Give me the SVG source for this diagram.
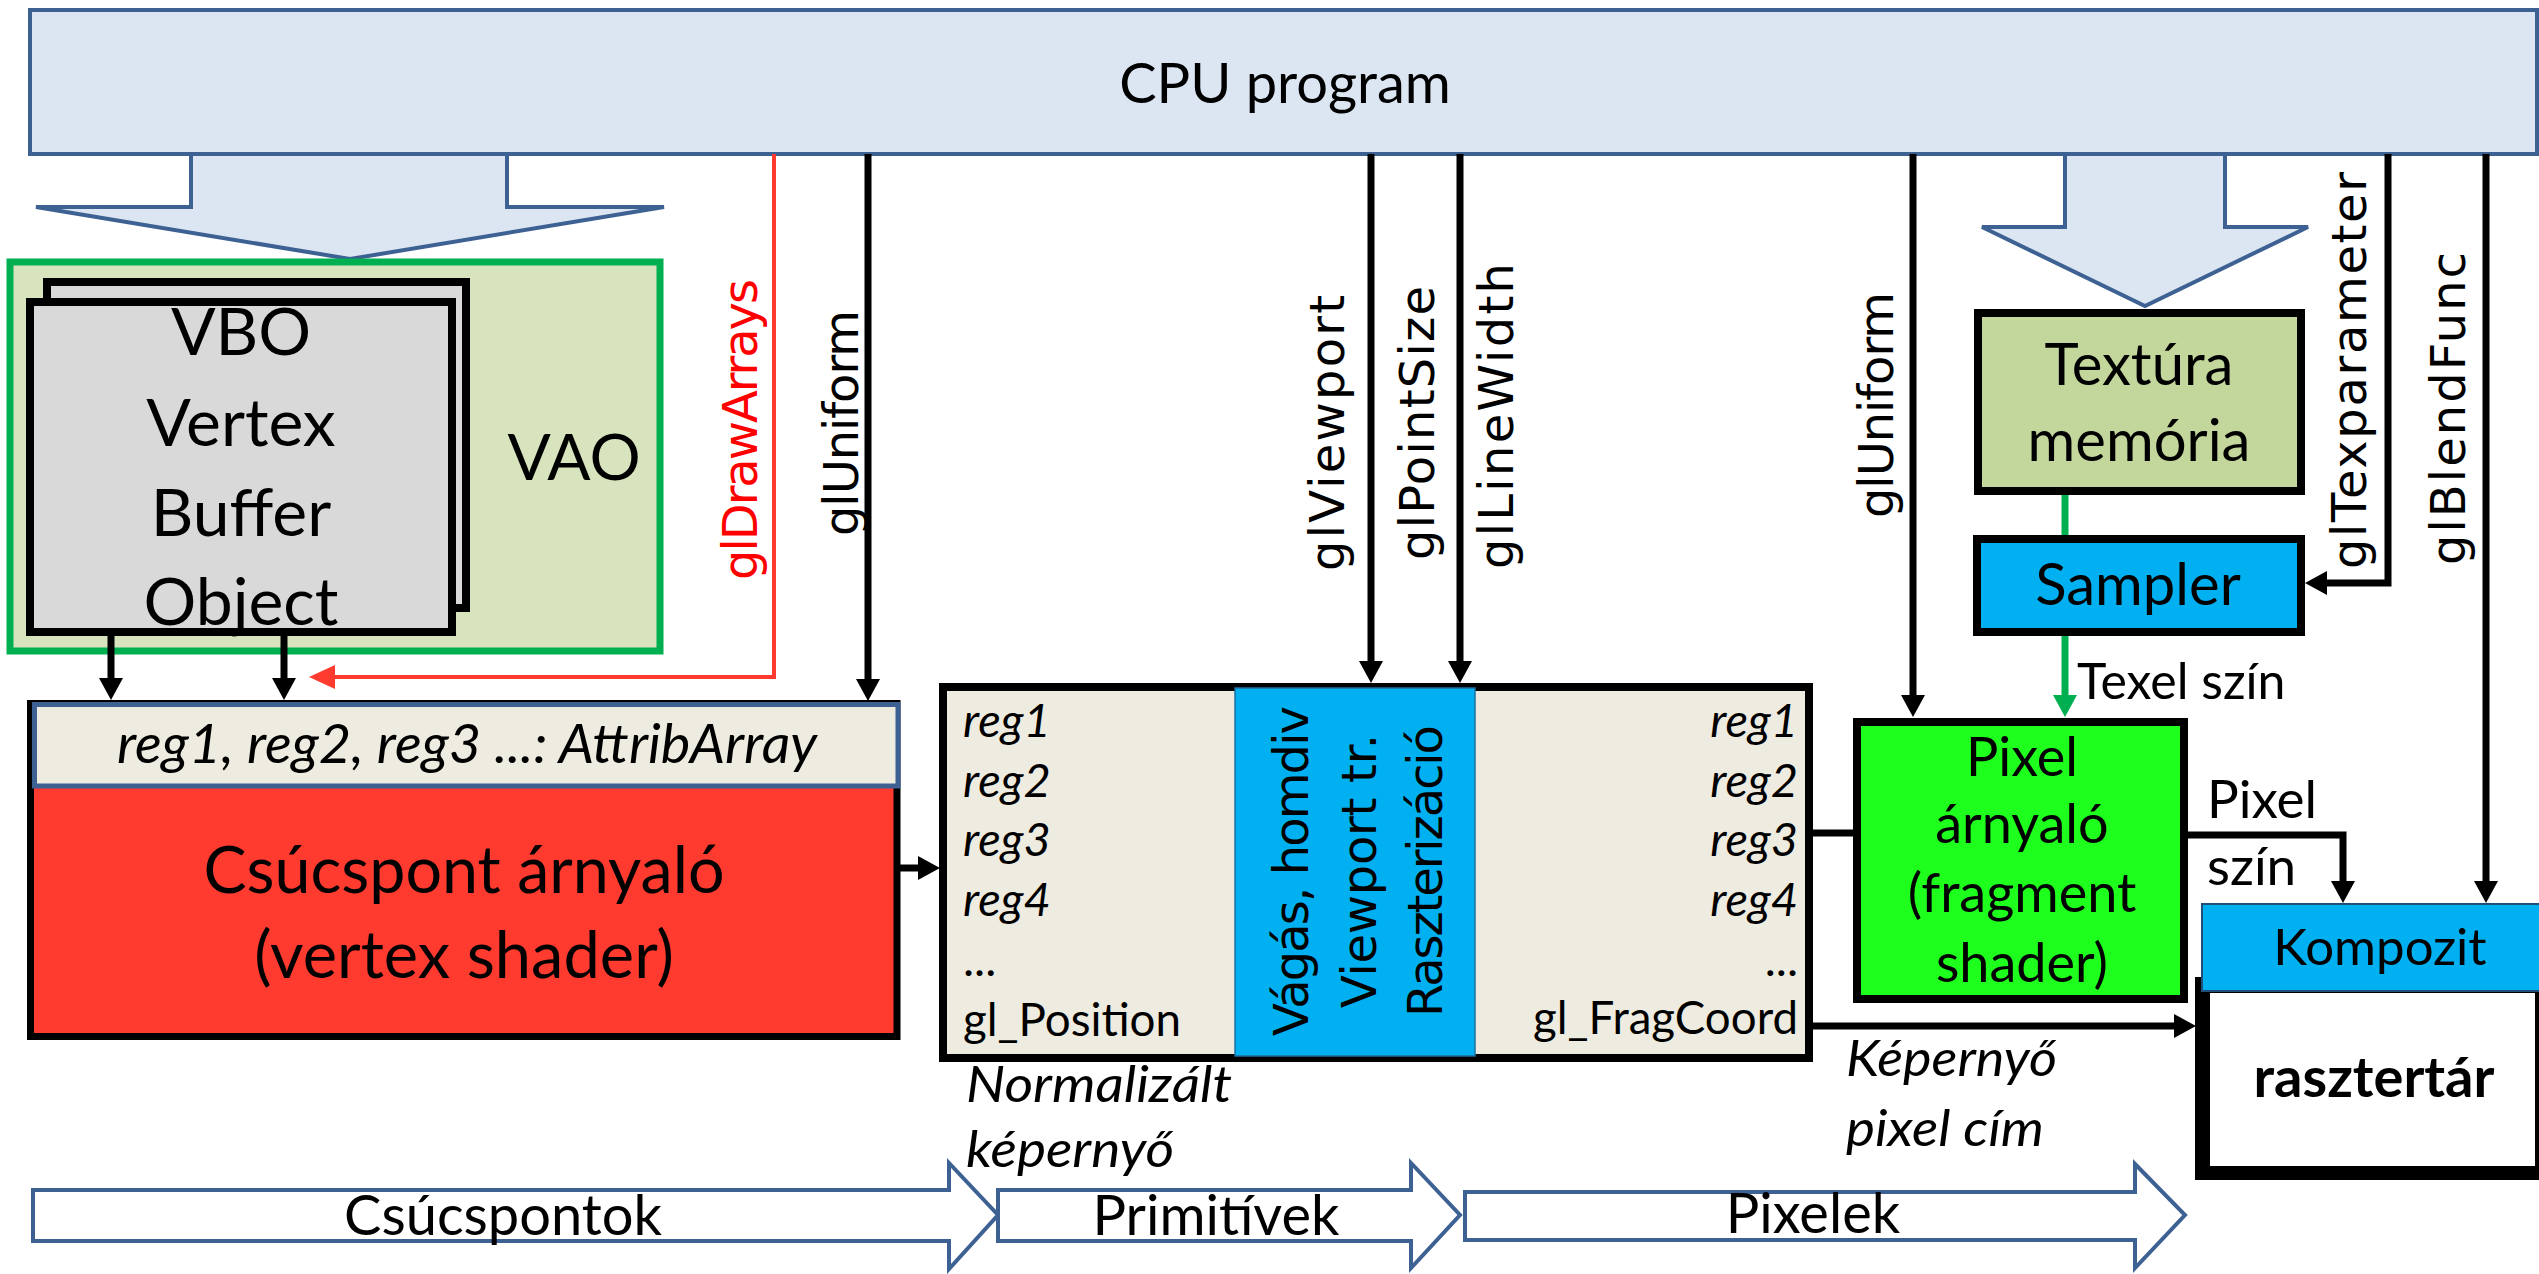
<svg xmlns="http://www.w3.org/2000/svg" width="2539" height="1274" viewBox="0 0 2539 1274">
<style>
.t{font-family:Lato,"Open Sans","Liberation Sans",sans-serif;fill:#000}
.r{font-family:"DejaVu Sans",Verdana,sans-serif;fill:#000;font-size:48px}
.i{font-style:italic}
.m{text-anchor:middle}
.e{text-anchor:end}
.blu{fill:#dce6f2;stroke:#3e6193;stroke-width:4;stroke-linejoin:miter}
.bx{stroke:#000;stroke-width:8}
.c{fill:none;stroke:#000;stroke-width:7}
</style>
<defs>
<marker id="ab" markerUnits="userSpaceOnUse" markerWidth="24" markerHeight="26" refX="10" refY="12" orient="auto"><path d="M0,0 L22,12 L0,24 z" fill="#000"/></marker>
<marker id="ag" markerUnits="userSpaceOnUse" markerWidth="24" markerHeight="26" refX="10" refY="12" orient="auto"><path d="M0,0 L22,12 L0,24 z" fill="#00b050"/></marker>
<marker id="ar" markerUnits="userSpaceOnUse" markerWidth="28" markerHeight="26" refX="14" refY="12" orient="auto"><path d="M0,0 L26,12 L0,24 z" fill="#ff3b30"/></marker>
</defs>

<g id="cpu-arrow-left"><path class="blu" d="M191,154 V207 H36 L350,259 L664,207 H507 V154"/></g>
<g id="cpu-arrow-right"><path class="blu" d="M2065,154 V227 H1982 L2145,306 L2308,227 H2225 V154"/></g>
<g id="cpu"><rect class="blu" x="30" y="10" width="2507" height="144"/><text class="t m" x="1285" y="103" font-size="56">CPU program</text></g>

<g id="vao">
<rect x="10" y="262" width="650" height="389" fill="#d7e4bd" stroke="#00b050" stroke-width="7"/>
<text class="t m" x="574" y="480" font-size="64">VAO</text>
</g>
<g id="vbo">
<rect class="bx" x="47" y="282" width="419" height="326" fill="#d9d9d9"/>
<rect class="bx" x="30" y="302" width="422" height="330" fill="#d9d9d9"/>
<text class="t m" x="241" font-size="66"><tspan x="241" y="355">VBO</tspan><tspan x="241" y="446">Vertex</tspan><tspan x="241" y="536">Buffer</tspan><tspan x="241" y="625">Object</tspan></text>
</g>

<g id="vertex-shader">
<rect x="30.5" y="703.5" width="866.5" height="333" fill="#ff3b2f" stroke="#000" stroke-width="7"/>
<rect x="34.5" y="704.5" width="863.5" height="81.5" fill="#eeece1" stroke="#3e6193" stroke-width="5"/>
<text class="t i m" x="467" y="763" font-size="54" textLength="700" lengthAdjust="spacingAndGlyphs">reg1, reg2, reg3 ...: AttribArray</text>
<text class="t m" x="464" y="893" font-size="65" textLength="521" lengthAdjust="spacingAndGlyphs">Csúcspont árnyaló</text>
<text class="t m" x="464" y="978" font-size="65">(vertex shader)</text>
</g>

<g id="raster-stage">
<rect class="bx" x="943" y="687" width="866" height="371" fill="#eeece1"/>
<rect x="1235" y="688" width="240" height="368" fill="#00b0f0" stroke="#1f6f9f" stroke-width="1.5"/>
<g class="t i" font-size="47">
<text x="963" y="737">reg1</text><text x="963" y="797">reg2</text><text x="963" y="856">reg3</text><text x="963" y="916">reg4</text>
<text class="e" x="1798" y="737">reg1</text><text class="e" x="1798" y="797">reg2</text><text class="e" x="1798" y="856">reg3</text><text class="e" x="1798" y="916">reg4</text>
</g>
<g class="t" font-size="47">
<text x="963" y="976">...</text><text x="963" y="1036" textLength="218" lengthAdjust="spacingAndGlyphs">gl_Position</text>
<text class="e" x="1798" y="976">...</text><text class="e" x="1798" y="1034" textLength="265" lengthAdjust="spacingAndGlyphs">gl_FragCoord</text>
</g>
<text class="r m" x="1308" y="871" transform="rotate(-90 1308 871)" textLength="330">Vágás, homdiv</text>
<text class="r m" x="1376" y="871" transform="rotate(-90 1376 871)" textLength="274">Viewport tr.</text>
<text class="r m" x="1442" y="871" transform="rotate(-90 1442 871)" textLength="292">Raszterizáció</text>
</g>

<g id="texture-memory">
<rect class="bx" x="1978" y="313" width="323" height="178" fill="#c3d69b"/>
<text class="t m" x="2139" y="385" font-size="58">Textúra</text>
<text class="t m" x="2139" y="461" font-size="58">memória</text>
</g>
<g id="sampler">
<rect class="bx" x="1977" y="539" width="324" height="93" fill="#00b0f0"/>
<text class="t m" x="2138" y="605" font-size="58">Sampler</text>
</g>
<g id="fragment-shader">
<rect class="bx" x="1857" y="722" width="327" height="277" fill="#1eff1e"/>
<text class="t m" font-size="54"><tspan x="2022" y="776">Pixel</tspan><tspan x="2022" y="843">árnyaló</tspan><tspan x="2022" y="912">(fragment</tspan><tspan x="2022" y="982">shader)</tspan></text>
</g>
<g id="framebuffer">
<rect x="2195" y="977" width="344" height="203" fill="#000"/>
<rect x="2210" y="993" width="325" height="173" fill="#fff"/>
<text class="t m" x="2374" y="1097" font-size="56" font-weight="bold">rasztertár</text>
</g>
<g id="kompozit">
<rect x="2202" y="904" width="340" height="87" fill="#00b0f0" stroke="#1f4e79" stroke-width="2"/>
<text class="t m" x="2380" y="965" font-size="51">Kompozit</text>
</g>

<g id="connectors">
<path class="c" d="M111,632 V688" marker-end="url(#ab)"/>
<path class="c" d="M284,632 V688" marker-end="url(#ab)"/>
<path d="M774,154 V677 H321" fill="none" stroke="#ff3b30" stroke-width="4" marker-end="url(#ar)"/>
<path class="c" d="M868,154 V689" marker-end="url(#ab)"/>
<path class="c" d="M1371,154 V671" marker-end="url(#ab)"/>
<path class="c" d="M1460,154 V671" marker-end="url(#ab)"/>
<path class="c" d="M1913,154 V705" marker-end="url(#ab)"/>
<path class="c" d="M2388,154 V583 H2317" marker-end="url(#ab)"/>
<path class="c" d="M2486,154 V891" marker-end="url(#ab)"/>
<path class="c" d="M897,868 H928" marker-end="url(#ab)"/>
<path class="c" d="M1813,833 H1853"/>
<path class="c" d="M1813,1026 H2184" marker-end="url(#ab)"/>
<path class="c" d="M2188,835 H2343 V891" marker-end="url(#ab)"/>
<path d="M2065,495 V535" fill="none" stroke="#00b050" stroke-width="7"/>
<path d="M2065,636 V705" fill="none" stroke="#00b050" stroke-width="7" marker-end="url(#ag)"/>
</g>

<g id="labels">
<text class="r" x="757" y="580" style="fill:#ff0000" transform="rotate(-90 757 580)" textLength="301">glDrawArrays</text>
<text class="r" x="858" y="536" transform="rotate(-90 858 536)" textLength="226">glUniform</text>
<text class="r" x="1344" y="571" transform="rotate(-90 1344 571)" textLength="276">glViewport</text>
<text class="r" x="1434" y="560" transform="rotate(-90 1434 560)" textLength="274">glPointSize</text>
<text class="r" x="1513" y="569" transform="rotate(-90 1513 569)" textLength="306">glLineWidth</text>
<text class="r" x="1893" y="518" transform="rotate(-90 1893 518)" textLength="226">glUniform</text>
<text class="r" x="2366" y="569" transform="rotate(-90 2366 569)" textLength="397">glTexparameter</text>
<text class="r" x="2465" y="565" transform="rotate(-90 2465 565)" textLength="313">glBlendFunc</text>
<text class="t" x="2077" y="699" font-size="50">Texel szín</text>
<text class="t" x="2207" y="818" font-size="53">Pixel</text>
<text class="t" x="2207" y="885" font-size="53">szín</text>
<text class="t i" x="966" y="1102" font-size="50" textLength="266" lengthAdjust="spacingAndGlyphs">Normalizált</text>
<text class="t i" x="966" y="1167" font-size="50" textLength="208" lengthAdjust="spacingAndGlyphs">képernyő</text>
<text class="t i" x="1846" y="1076" font-size="50" textLength="211" lengthAdjust="spacingAndGlyphs">Képernyő</text>
<text class="t i" x="1846" y="1146" font-size="50" textLength="198" lengthAdjust="spacingAndGlyphs">pixel cím</text>
</g>

<g id="stage-arrows">
<path d="M33,1190 H949 V1163 L998,1215 L949,1269 V1241 H33 z" fill="#fff" stroke="#3e6193" stroke-width="4"/>
<text class="t m" x="503" y="1235" font-size="56">Csúcspontok</text>
<path d="M998,1190 H1411 V1163 L1460,1215 L1411,1268 V1241 H998 z" fill="#fff" stroke="#3e6193" stroke-width="4"/>
<text class="t m" x="1216" y="1235" font-size="56">Primitívek</text>
<path d="M1465,1192 H2135 V1164 L2185,1215 L2135,1268 V1240 H1465 z" fill="#fff" stroke="#3e6193" stroke-width="4"/>
<text class="t m" x="1813" y="1233" font-size="56">Pixelek</text>
</g>
</svg>
